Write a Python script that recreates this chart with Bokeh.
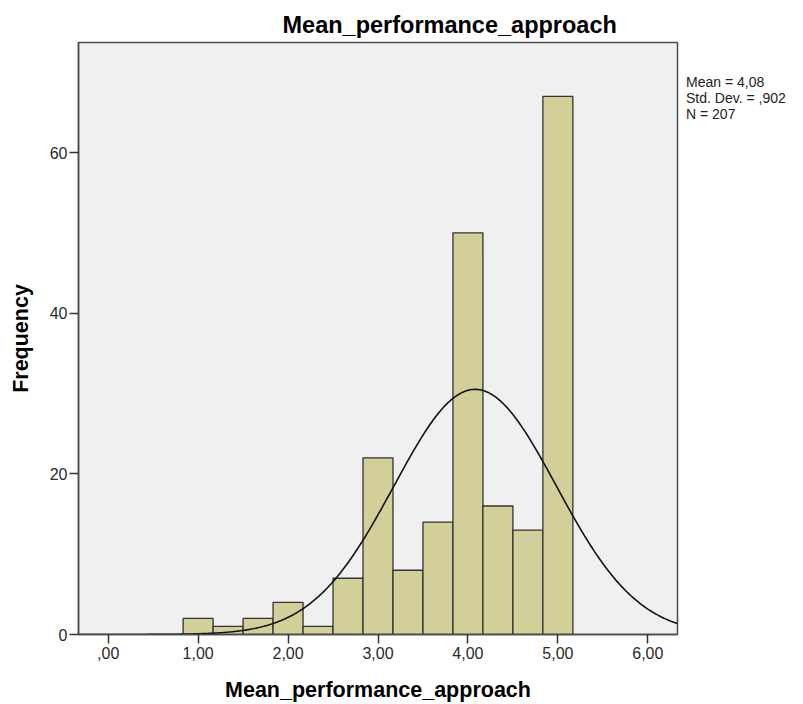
import numpy as np
from bokeh.plotting import figure
from bokeh.models import FixedTicker, Range1d, Legend, LegendItem
from bokeh.embed import file_html
from bokeh.resources import INLINE

# Data
bin_centers = [1.0, 1.3333, 1.6667, 2.0, 2.3333, 2.6667, 3.0, 3.3333, 3.6667, 4.0, 4.3333, 4.6667, 5.0]
counts = [2, 1, 2, 4, 1, 7, 22, 8, 14, 50, 16, 13, 67]
bin_width = 1.0 / 3.0
mean_val = 4.08
sd_val = 0.902
n_val = 207
x_ticks = [0, 1, 2, 3, 4, 5, 6]
x_tick_labels = [",00", "1,00", "2,00", "3,00", "4,00", "5,00", "6,00"]
y_ticks = [0, 20, 40, 60]
stats_lines = ["Mean = 4,08", "Std. Dev. = ,902", "N = 207"]

FONT = "Liberation Sans"
X0, X1 = -0.33, 6.33
Y0, Y1 = 0, 73.7

p = figure(frame_width=599, frame_height=592, output_backend="svg", toolbar_location=None,
           x_range=Range1d(X0, X1), y_range=Range1d(Y0, Y1),
           min_border_left=78, min_border_right=126, min_border_top=42, min_border_bottom=70,
           background_fill_color="#F0F0F0", border_fill_color="white")

p.title.text = "Mean_performance_approach"
p.title.text_font = FONT
p.title.text_font_size = "23.5px"
p.title.text_font_style = "bold"
p.title.text_color = "black"
p.title.align = "left"
p.title.offset = 204

p.outline_line_color = "#4a4a4a"
p.outline_line_width = 1.5
p.grid.visible = False

lefts = [c - bin_width / 2 for c in bin_centers]
rights = [c + bin_width / 2 for c in bin_centers]
p.quad(left=lefts, right=rights, bottom=0, top=counts,
       fill_color="#D3CF98", line_color="#333333", line_width=1.3)

# Fitted normal curve from the reported statistics
xs = np.linspace(X0, X1, 400)
ys = n_val * bin_width * np.exp(-0.5 * ((xs - mean_val) / sd_val) ** 2) / (sd_val * np.sqrt(2 * np.pi))
p.line(xs, ys, line_color="#111111", line_width=1.6)

for ax in (p.xaxis[0], p.yaxis[0]):
    ax.axis_line_color = "#4a4a4a"
    ax.axis_line_width = 1.5
    ax.major_tick_line_color = "#333333"
    ax.major_tick_line_width = 1.5
    ax.major_tick_out = 9
    ax.major_tick_in = 0
    ax.minor_tick_line_color = None
    ax.major_label_text_font = FONT
    ax.major_label_text_font_size = "16px"
    ax.major_label_text_color = "#2a2a2a"
    ax.axis_label_text_font = FONT
    ax.axis_label_text_font_size = "21.5px"
    ax.axis_label_text_font_style = "bold"
    ax.axis_label_text_color = "black"

p.xaxis.ticker = FixedTicker(ticks=x_ticks)
p.xaxis.major_label_overrides = {t: l for t, l in zip(x_ticks, x_tick_labels)}
p.xaxis.axis_label = "Mean_performance_approach"
p.xaxis.major_label_standoff = 3
p.xaxis.axis_label_standoff = 16

p.yaxis.ticker = FixedTicker(ticks=y_ticks)
p.yaxis.axis_label = "Frequency"
p.yaxis.major_label_standoff = 2
p.yaxis.axis_label_standoff = 14

# Statistics block to the right of the plot (legend used as a text box)
dummy = p.scatter(x=[], y=[], size=0, fill_alpha=0, line_alpha=0)
legend = Legend(items=[LegendItem(label=s, renderers=[dummy]) for s in stats_lines],
                location=(0, 512), orientation="vertical",
                margin=0, padding=0, spacing=0,
                glyph_width=0, glyph_height=16, label_height=16, label_standoff=9,
                label_text_font=FONT, label_text_font_size="14px", label_text_color="#222222",
                border_line_color=None, background_fill_alpha=0)
p.add_layout(legend, "right")

open("out.html", "w").write(file_html(p, INLINE))
